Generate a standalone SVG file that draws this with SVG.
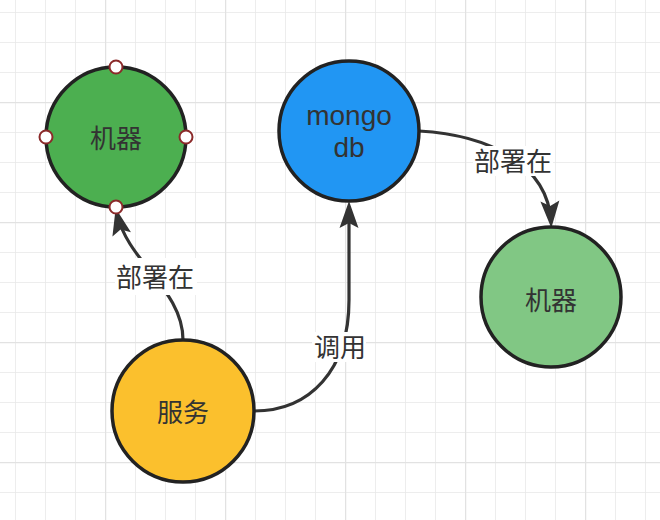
<svg xmlns="http://www.w3.org/2000/svg" width="660" height="520" viewBox="0 0 660 520">
  <style>
    .node { stroke: #222; stroke-width: 3.5; }
    .txt { font-family: "Noto Sans", "Noto Sans CJK SC", sans-serif; font-size: 26px; fill: #333; text-anchor: middle; }
    .latin { font-family: "Liberation Sans", "Noto Sans", sans-serif; font-size: 28px; }
    .edge { fill: none; stroke: #333; stroke-width: 3.2; }
    .lbl { fill: #fff; }
    .handle { fill: #fff; stroke: #8b2a2a; stroke-width: 2; }
  </style>
  <defs>
    <pattern id="gridThin" patternUnits="userSpaceOnUse" x="15" y="12" width="30" height="30">
      <path d="M0,0 H30 M0,0 V30" fill="none" stroke="#e8e8e8" stroke-width="1.5"/>
    </pattern>
    <pattern id="gridThick" patternUnits="userSpaceOnUse" x="105" y="102" width="120" height="120">
      <path d="M0,0 H120 M0,0 V120" fill="none" stroke="#e2e2e2" stroke-width="2.5"/>
    </pattern>
    <marker id="arrow" markerUnits="userSpaceOnUse" markerWidth="30" markerHeight="20" refX="21" refY="10" orient="auto" overflow="visible">
      <path d="M0,0.5 L27,10 L0,19.5 L5,10 Z" fill="#333"/>
    </marker>
  </defs>
  <rect width="660" height="520" fill="#fff"/>
  <rect width="660" height="520" fill="url(#gridThin)"/>
  <rect width="660" height="520" fill="url(#gridThick)"/>

  <g id="connectors">
    <path class="edge" d="M183,340 C183,290 128,262 117,214" marker-end="url(#arrow)"/>
    <path class="edge" d="M254,411 C310,411 349,370 349,300 L349,207" marker-end="url(#arrow)"/>
    <path class="edge" d="M419,131 C490,135 548,165 551,222" marker-end="url(#arrow)"/>
    <g id="label-deploy-left">
      <rect class="lbl" x="115" y="258" width="82" height="37"/>
      <text class="txt" x="155" y="277" dominant-baseline="central">部署在</text>
    </g>
    <g id="label-call">
      <rect class="lbl" x="312" y="332" width="54" height="30"/>
      <text class="txt" x="340" y="347" dominant-baseline="central">调用</text>
    </g>
    <g id="label-deploy-right">
      <rect class="lbl" x="473" y="146" width="80" height="30"/>
      <text class="txt" x="513" y="161" dominant-baseline="central">部署在</text>
    </g>
  </g>

  <g id="node-machine-1">
    <circle class="node" cx="116" cy="137" r="70" fill="#4caf50"/>
    <text class="txt" x="116" y="138" dominant-baseline="central">机器</text>
    <circle class="handle" cx="116" cy="67" r="6.5"/>
    <circle class="handle" cx="46" cy="137" r="6.5"/>
    <circle class="handle" cx="186" cy="137" r="6.5"/>
    <circle class="handle" cx="116" cy="207" r="6.5"/>
  </g>

  <g id="node-mongodb">
    <circle class="node" cx="349" cy="131" r="70" fill="#2196f3"/>
    <text class="txt latin" x="349" y="125"><tspan x="349" y="125">mongo</tspan><tspan x="349" y="157">db</tspan></text>
  </g>

  <g id="node-service">
    <circle class="node" cx="183" cy="411" r="71" fill="#fbc02d"/>
    <text class="txt" x="183" y="412" dominant-baseline="central">服务</text>
  </g>

  <g id="node-machine-2">
    <circle class="node" cx="551" cy="297" r="70" fill="#81c784"/>
    <text class="txt" x="551" y="300" dominant-baseline="central">机器</text>
  </g>
</svg>
